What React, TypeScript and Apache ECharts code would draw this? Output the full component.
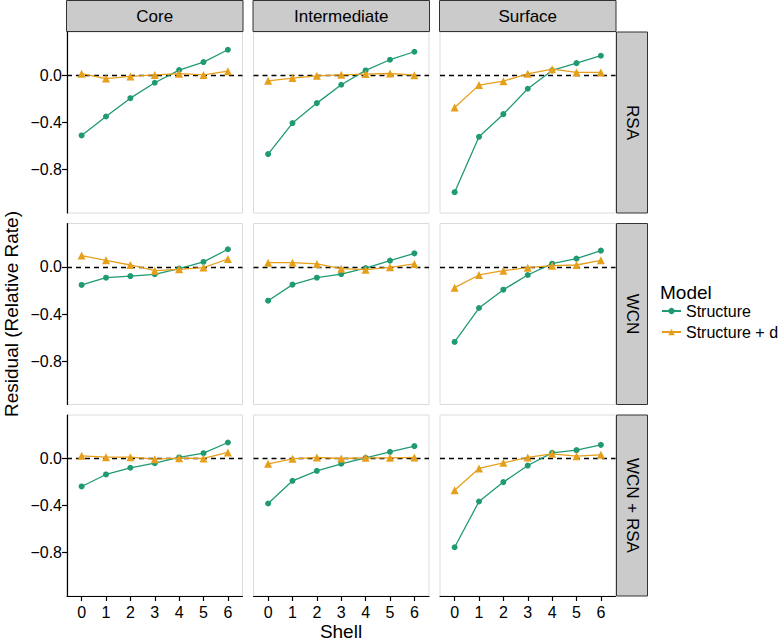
import React, { useEffect, useRef } from "react";
import * as echarts from "echarts";

const shells = [0, 1, 2, 3, 4, 5, 6];
const colLabels = ["Core", "Intermediate", "Surface"];
const rowLabels = ["RSA", "WCN", "WCN + RSA"];
const modelNames = ["Structure", "Structure + d"];
const yTicks = [-0.8, -0.4, 0];

// [row][col] values
const structureVals = [
  [
    [-0.51, -0.349, -0.193, -0.062, 0.046, 0.114, 0.219],
    [-0.669, -0.405, -0.235, -0.079, 0.043, 0.134, 0.202],
    [-0.993, -0.522, -0.329, -0.113, 0.043, 0.105, 0.168],
  ],
  [
    [-0.153, -0.091, -0.077, -0.062, -0.014, 0.043, 0.151],
    [-0.287, -0.15, -0.091, -0.06, -0.009, 0.054, 0.116],
    [-0.638, -0.349, -0.193, -0.068, 0.028, 0.071, 0.139],
  ],
  [
    [-0.238, -0.136, -0.079, -0.04, 0.009, 0.045, 0.136],
    [-0.383, -0.19, -0.105, -0.045, 0.006, 0.057, 0.105],
    [-0.755, -0.366, -0.201, -0.06, 0.048, 0.071, 0.116],
  ],
];
const structureDVals = [
  [
    [0.015, -0.026, -0.008, 0.005, 0.015, 0.005, 0.037],
    [-0.045, -0.022, -0.003, 0.006, 0.012, 0.017, 0.003],
    [-0.272, -0.082, -0.048, 0.014, 0.054, 0.026, 0.026],
  ],
  [
    [0.097, 0.057, 0.017, -0.031, -0.02, -0.005, 0.068],
    [0.037, 0.037, 0.026, -0.014, -0.023, -0.003, 0.026],
    [-0.176, -0.068, -0.031, -0.006, 0.011, 0.017, 0.057],
  ],
  [
    [0.023, 0.011, 0.011, -0.006, 0.003, 0, 0.051],
    [-0.045, -0.003, 0.009, 0, 0.006, 0.006, 0.009],
    [-0.27, -0.085, -0.037, 0.009, 0.04, 0.02, 0.031],
  ],
];

const GREEN = "#1f9a73";
const ORANGE = "#e69f1b";
const FONT = "Liberation Sans, Arial, Helvetica, sans-serif";

export default function App() {
  const ref = useRef<HTMLDivElement>(null);
  useEffect(() => {
    if (!ref.current) return;
    const chart = echarts.init(ref.current, undefined, { renderer: "svg" });
    const colLeft = [67, 253.5, 440];
    const colW = 175.5;
    const rowTop = [32, 223.5, 415];
    const rowH = 181;

    const grids: any[] = [];
    const xAxes: any[] = [];
    const yAxes: any[] = [];
    const series: any[] = [];
    const graphics: any[] = [];

    for (let r = 0; r < 3; r++) {
      for (let c = 0; c < 3; c++) {
        const i = r * 3 + c;
        grids.push({
          left: colLeft[c],
          top: rowTop[r],
          width: colW,
          height: rowH,
          show: true,
          borderColor: "#dcdcdc",
          borderWidth: 1,
          backgroundColor: "#ffffff",
        });
        const bottomRow = r === 2;
        xAxes.push({
          type: "value",
          gridIndex: i,
          min: -0.6,
          max: 6.6,
          splitLine: { show: false },
          axisLine: { show: bottomRow, onZero: false, lineStyle: { color: "#000", width: 1.2 } },
          axisTick: {
            show: bottomRow,
            customValues: shells,
            length: 5,
            lineStyle: { color: "#000", width: 1.2 },
          },
          axisLabel: {
            show: bottomRow,
            customValues: shells,
            color: "#000",
            fontSize: 16,
            fontFamily: FONT,
            margin: 8,
          },
        });
        const leftCol = c === 0;
        yAxes.push({
          type: "value",
          gridIndex: i,
          min: -1.17,
          max: 0.37,
          splitLine: { show: false },
          axisLine: { show: leftCol, onZero: false, lineStyle: { color: "#000", width: 1.2 } },
          axisTick: {
            show: leftCol,
            customValues: yTicks,
            length: 5,
            lineStyle: { color: "#000", width: 1.2 },
          },
          axisLabel: {
            show: leftCol,
            customValues: yTicks,
            color: "#000",
            fontSize: 16,
            fontFamily: FONT,
            margin: 5,
            formatter: (v: number) => (v < 0 ? "\u2212" + Math.abs(v).toFixed(1) : v.toFixed(1)),
          },
        });
        series.push({
          type: "line",
          name: modelNames[0],
          xAxisIndex: i,
          yAxisIndex: i,
          data: shells.map((s, k) => [s, structureVals[r][c][k]]),
          symbol: "circle",
          symbolSize: 6,
          itemStyle: { color: GREEN },
          lineStyle: { color: GREEN, width: 1.3 },
          z: 3,
          markLine: {
            silent: true,
            symbol: "none",
            label: { show: false },
            lineStyle: { color: "#000", type: [5, 4], width: 1.3 },
            data: [{ yAxis: 0 }],
            z: 1,
          },
        });
        series.push({
          type: "line",
          name: modelNames[1],
          xAxisIndex: i,
          yAxisIndex: i,
          data: shells.map((s, k) => [s, structureDVals[r][c][k]]),
          symbol: "triangle",
          symbolSize: 8,
          itemStyle: { color: ORANGE },
          lineStyle: { color: ORANGE, width: 1.3 },
          z: 4,
        });
      }
    }

    // top strips
    for (let c = 0; c < 3; c++) {
      graphics.push({
        type: "rect",
        shape: { x: colLeft[c] - 0.5, y: 0.5, width: colW + 1, height: 31 },
        style: { fill: "#cbcbcb", stroke: "#333", lineWidth: 1 },
      });
      graphics.push({
        type: "text",
        x: colLeft[c] + colW / 2,
        y: 16.5,
        style: {
          text: colLabels[c],
          fill: "#000",
          font: `17px ${FONT}`,
          align: "center",
          verticalAlign: "middle",
        },
      });
    }
    // right strips
    for (let r = 0; r < 3; r++) {
      graphics.push({
        type: "rect",
        shape: { x: 616.5, y: rowTop[r], width: 31, height: rowH },
        style: { fill: "#cbcbcb", stroke: "#333", lineWidth: 1 },
      });
      graphics.push({
        type: "text",
        x: 632,
        y: rowTop[r] + rowH / 2,
        rotation: -Math.PI / 2,
        style: {
          text: rowLabels[r],
          fill: "#000",
          font: `17px ${FONT}`,
          align: "center",
          verticalAlign: "middle",
        },
      });
    }
    // axis titles
    graphics.push({
      type: "text",
      x: 11,
      y: 314,
      rotation: Math.PI / 2,
      style: {
        text: "Residual (Relative Rate)",
        fill: "#000",
        font: `19px ${FONT}`,
        align: "center",
        verticalAlign: "middle",
      },
    });
    graphics.push({
      type: "text",
      x: 341,
      y: 631,
      style: {
        text: "Shell",
        fill: "#000",
        font: `19px ${FONT}`,
        align: "center",
        verticalAlign: "middle",
      },
    });
    graphics.push({
      type: "text",
      x: 660,
      y: 292,
      style: {
        text: "Model",
        fill: "#000",
        font: `19px ${FONT}`,
        align: "left",
        verticalAlign: "middle",
      },
    });

    chart.setOption({
      animation: false,
      backgroundColor: "#ffffff",
      grid: grids,
      xAxis: xAxes,
      yAxis: yAxes,
      series,
      legend: {
        data: modelNames,
        orient: "vertical",
        left: 661,
        top: 302,
        padding: 0,
        itemWidth: 19,
        itemHeight: 8,
        itemGap: 3,
        textStyle: { color: "#000", fontSize: 16, fontFamily: FONT, lineHeight: 18 },
        selectedMode: false,
      },
      graphic: graphics,
    });
    return () => chart.dispose();
  }, []);
  return (
    <div
      ref={ref}
      style={{ position: "fixed", left: 0, top: 0, width: 781, height: 641 }}
    />
  );
}
